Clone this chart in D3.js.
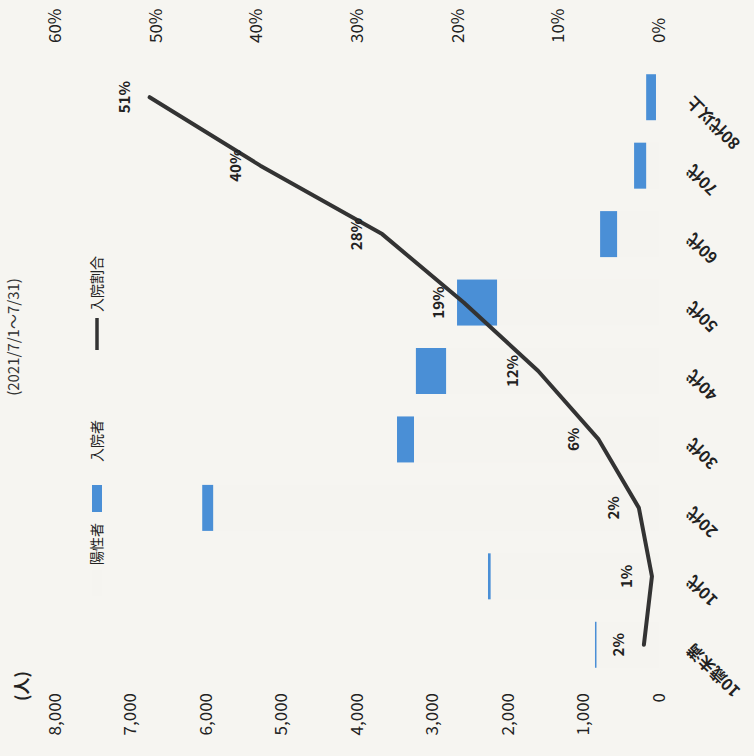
<!DOCTYPE html>
<html><head><meta charset="utf-8">
<script src="https://cdn.jsdelivr.net/npm/d3@7"></script>
<style>body{margin:0;background:#f6f5f1;} svg{display:block}</style>
</head><body>
<svg id="c" width="754" height="756"></svg>
<script>
// ---- data ----
const categories = ["10歳未満","10代","20代","30代","40代","50代","60代","70代","80代以上"];
const positives = [828, 2230, 5905, 3245, 2820, 2145, 555, 170, 40];
const hospitalized = [20, 35, 145, 225, 400, 530, 225, 160, 130];
const hospRate = [1.5, 0.7, 2.0, 6.0, 12.0, 19.4, 27.5, 39.6, 50.6];
const countTicks = [0,1000,2000,3000,4000,5000,6000,7000,8000];
const pctTicks = [0,10,20,30,40,50,60];
const legendLabels = ["陽性者","入院者","入院割合"];
const subtitle = "(2021/7/1～7/31)";
const unitLabel = "(人)";

// ---- layout: chart is drawn upright, then turned 90° counter-clockwise ----
const svg = d3.select("#c");
svg.append("rect").attr("width",754).attr("height",756).attr("fill","#f6f5f1");
const g = svg.append("g").attr("transform","translate(0,756) rotate(-90)");

const FONT = "'Noto Sans CJK JP','DejaVu Sans',sans-serif";
const BLUE = "#4a8fd6";
const FAINT = "#f5f4f0";

const x = d3.scaleBand().domain(categories).range([77,693]).paddingInner(0.328).paddingOuter(0.164);
const y = d3.scaleLinear().domain([0,8000]).range([659,55]);
const yp = d3.scaleLinear().domain([0,60]).range([659,55]);

// subtitle (near the top edge)
g.append("text").attr("x",419).attr("y",19).attr("text-anchor","middle")
  .attr("font-family",FONT).attr("font-size",15).attr("fill","#333").text(subtitle);

// bars (stacked)
const rows = categories.map((c,i)=>({c, p:positives[i], h:hospitalized[i], r:hospRate[i]}));
g.selectAll("rect.pos").data(rows).join("rect").attr("class","pos")
  .attr("x",d=>x(d.c)).attr("width",x.bandwidth())
  .attr("y",d=>y(d.p)).attr("height",d=>y(0)-y(d.p)).attr("fill",FAINT);
g.selectAll("rect.hosp").data(rows).join("rect").attr("class","hosp")
  .attr("x",d=>x(d.c)).attr("width",x.bandwidth())
  .attr("y",d=>y(d.p+d.h)).attr("height",d=>y(d.p)-y(d.p+d.h)).attr("fill",BLUE);

// line
const line = d3.line().x(d=>x(d.c)+x.bandwidth()/2).y(d=>yp(d.r));
g.append("path").datum(rows).attr("d",line).attr("fill","none")
  .attr("stroke","#333").attr("stroke-width",4).attr("stroke-linejoin","round").attr("stroke-linecap","round");

// data labels
g.selectAll("text.dl").data(rows).join("text").attr("class","dl")
  .attr("x",d=>x(d.c)+x.bandwidth()/2).attr("y",d=>yp(d.r)-25).attr("dy","0.35em")
  .attr("text-anchor","middle").attr("font-family",FONT).attr("font-size",15).attr("font-weight","bold")
  .attr("fill","#222").text(d=>Math.round(d.r)+"%");

// left axis
const ax = g.append("g").attr("transform","translate(66,0)")
  .call(d3.axisLeft(y).tickValues(countTicks).tickFormat(d3.format(",")).tickSize(0).tickPadding(3));
ax.select(".domain").remove();
ax.selectAll("text").attr("font-family",FONT).attr("font-size",17).attr("fill","#222");

// right axis
const ar = g.append("g").attr("transform","translate(710,0)")
  .call(d3.axisRight(yp).tickValues(pctTicks).tickFormat(d=>d+"%").tickSize(0).tickPadding(3));
ar.select(".domain").remove();
ar.selectAll("text").attr("font-family",FONT).attr("font-size",17).attr("fill","#222");

// category axis
const ab = g.append("g").attr("transform","translate(0,659)")
  .call(d3.axisBottom(x).tickSize(0));
ab.select(".domain").remove();
ab.selectAll("text").attr("font-family",FONT).attr("font-size",16).attr("font-weight",600).attr("fill","#222")
  .attr("x",0).attr("y",0).attr("dy","0.35em").attr("text-anchor","end")
  .attr("transform","translate(-2,31) rotate(-45)");

// unit label
g.append("text").attr("x",70).attr("y",28).attr("text-anchor","middle")
  .attr("font-family",FONT).attr("font-size",17).attr("font-weight",600).attr("fill","#222").text(unitLabel);

// legend
const lg = g.append("g").attr("transform","translate(0,97)");
lg.append("rect").attr("x",160).attr("y",-5).attr("width",26).attr("height",10).attr("fill",FAINT);
lg.append("text").attr("x",191).attr("dy","0.35em").attr("font-family",FONT).attr("font-size",14).attr("fill","#222").text(legendLabels[0]);
lg.append("rect").attr("x",244).attr("y",-5).attr("width",27).attr("height",10).attr("fill",BLUE);
lg.append("text").attr("x",294).attr("dy","0.35em").attr("font-family",FONT).attr("font-size",14).attr("fill","#222").text(legendLabels[1]);
lg.append("line").attr("x1",406).attr("x2",438).attr("stroke","#333").attr("stroke-width",3.5);
lg.append("text").attr("x",444).attr("dy","0.35em").attr("font-family",FONT).attr("font-size",14).attr("fill","#222").text(legendLabels[2]);
</script>
</body></html>
